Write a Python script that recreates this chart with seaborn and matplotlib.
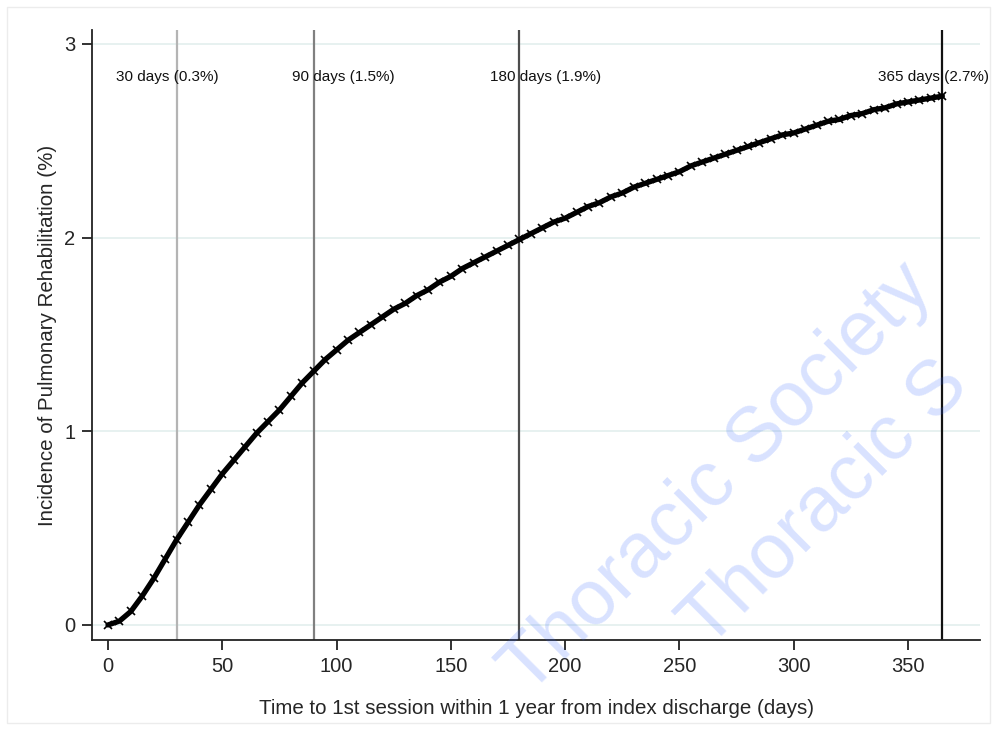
import matplotlib

matplotlib.use('Agg')
import matplotlib.pyplot as plt
import seaborn as sns
import pandas as pd
from matplotlib.patches import Rectangle

# cumulative incidence, every 5 days
days = list(range(0, 365, 5)) + [365]
incidence = [
    0.00, 0.02, 0.07, 0.15, 0.24, 0.34, 0.44, 0.53, 0.62, 0.70,
    0.78, 0.85, 0.92, 0.99, 1.05, 1.11, 1.18, 1.25, 1.31, 1.37,
    1.42, 1.47, 1.51, 1.55, 1.59, 1.63, 1.66, 1.70, 1.73, 1.77,
    1.80, 1.84, 1.87, 1.90, 1.93, 1.96, 1.99, 2.02, 2.05, 2.08,
    2.10, 2.13, 2.16, 2.18, 2.21, 2.23, 2.26, 2.28, 2.30, 2.32,
    2.34, 2.37, 2.39, 2.41, 2.43, 2.45, 2.47, 2.49, 2.51, 2.53,
    2.54, 2.56, 2.58, 2.60, 2.61, 2.63, 2.64, 2.66, 2.67, 2.69,
    2.70, 2.71, 2.72, 2.73,
]

# reference time points and their labels
ref_days = [30, 90, 180, 365]
ref_labels = ['30 days (0.3%)', '90 days (1.5%)', '180 days (1.9%)', '365 days (2.7%)']
ref_label_x = [26, 103, 191.5, 361]
ref_colors = ['#b4b4b4', '#808080', '#4d4d4d', '#111111']

x_ticks = [0, 50, 100, 150, 200, 250, 300, 350]
y_ticks = [0, 1, 2, 3]

df = pd.DataFrame({'days': days, 'incidence': incidence})

sns.set_style('white')
plt.rcParams['font.family'] = ['Liberation Sans', 'DejaVu Sans']

fig = plt.figure(figsize=(9.97, 7.29), dpi=100)
ax = fig.add_axes([0.0923, 0.122, 0.8907, 0.837])

# faint frame around the graph region
fig.patches.append(Rectangle((0.007, 0.008), 0.986, 0.982, transform=fig.transFigure,
                             fill=False, edgecolor='#ececec', linewidth=1.0))

for d, c in zip(ref_days, ref_colors):
    ax.axvline(d, color=c, linewidth=1.6, zorder=2)

# thick band of crosses like the Stata marker line
sns.lineplot(data=df, x='days', y='incidence', ax=ax, color='black', linewidth=3.8,
             marker='x', markersize=5.5, markeredgewidth=1.2, markeredgecolor='black', zorder=3)

for lx, lab in zip(ref_label_x, ref_labels):
    ax.text(lx, 2.83, lab, ha='center', va='center', fontsize=11, color='#111111', zorder=4)

ax.set_xlim(-7, 381.5)
ax.set_ylim(-0.078, 3.072)
ax.set_xticks(x_ticks)
ax.set_yticks(y_ticks)
ax.yaxis.grid(True, color='#e3efee', linewidth=1.2)
ax.set_axisbelow(True)

sns.despine(ax=ax)
for s in ['left', 'bottom']:
    ax.spines[s].set_color('#222222')
    ax.spines[s].set_linewidth(1.3)
ax.tick_params(axis='both', direction='out', length=7, width=1.3, color='#222222',
               labelsize=14.5, pad=5, left=True, bottom=True)

ax.set_xlabel('Time to 1st session within 1 year from index discharge (days)', fontsize=14.8, labelpad=17)
ax.set_ylabel('Incidence of Pulmonary Rehabilitation (%)', fontsize=14.8, labelpad=5)

# publisher watermark (visible parts only)
for px, py, wm in [(529, 697, 'Thoracic Society'), (708, 650, 'Thoracic S')]:
    fig.text(px / 997, 1 - py / 729, wm, fontsize=56,
             color='#3366ff', alpha=0.19, rotation=45, rotation_mode='anchor',
             ha='left', va='baseline', zorder=10)

fig.savefig('out.png', dpi=100)
